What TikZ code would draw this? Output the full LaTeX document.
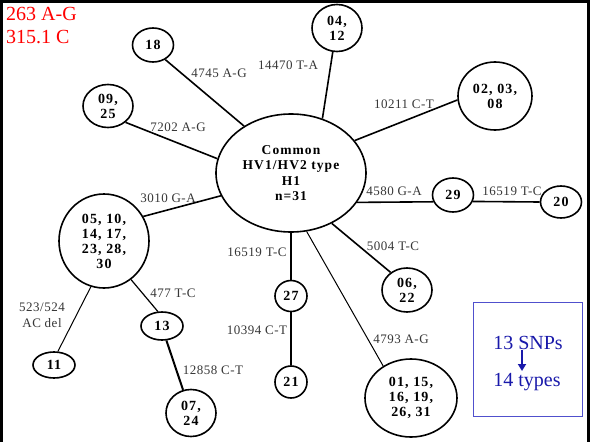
\documentclass[tikz,border=0pt]{standalone}
\usepackage{fontspec}
\setmainfont{Liberation Serif}
\newfontfamily\nodefont[LetterSpace=8]{Liberation Serif}
\newfontfamily\labfont[LetterSpace=4]{Liberation Serif}
\usetikzlibrary{shapes.geometric,arrows.meta}
\definecolor{labgray}{RGB}{55,55,55}
\definecolor{noteblue}{RGB}{25,25,170}
\definecolor{boxblue}{RGB}{80,80,205}
\tikzset{
  hap/.style={ellipse,draw=black,line width=1.6pt,inner sep=0pt,align=center,
    font=\nodefont\fontsize{14}{15}\selectfont\bfseries},
  mut/.style={text=labgray,inner sep=0pt,align=center,
    font=\labfont\fontsize{13}{16}\selectfont},
  edge/.style={line width=1.6pt},
  thinedge/.style={line width=1pt},
  thickedge/.style={line width=2pt},
}
\begin{document}
\begin{tikzpicture}[x=1pt,y=-1pt]
\useasboundingbox (0,0) rectangle (590,442);
\fill[white] (0,0) rectangle (590,442);
\draw[line width=3pt] (1.5,442) -- (1.5,1.5) -- (588.5,1.5) -- (588.5,442);

% red note
\node[text=red,anchor=north west,align=left,inner sep=0pt,
  font=\fontsize{20}{23}\selectfont] (note) at (6,7) {263 A-G\\315.1 C};

% haplotype nodes
\node[hap,minimum width=150pt,minimum height=118pt,font=\nodefont\fontsize{13.5}{15.5}\selectfont\bfseries] (h1) at (291,173) {Common\\HV1/HV2 type\\H1\\n=31};
\node[hap,minimum width=41pt,minimum height=34pt] (n18) at (153,45) {18};
\node[hap,minimum width=50pt,minimum height=43pt] (n09) at (108,106) {09,\\25};
\node[hap,minimum width=50pt,minimum height=47pt] (n04) at (337,28) {04,\\12};
\node[hap,minimum width=74pt,minimum height=68pt] (n02) at (495,96) {02, 03,\\08};
\node[hap,minimum width=90pt,minimum height=94pt] (n05) at (104,241) {05, 10,\\14, 17,\\23, 28,\\30};
\node[hap,minimum width=41pt,minimum height=34pt] (n29) at (453,195) {29};
\node[hap,minimum width=41pt,minimum height=32pt] (n20) at (561,202) {20};
\node[hap,minimum width=50pt,minimum height=44pt] (n06) at (407,290) {06,\\22};
\node[hap,minimum width=32pt,minimum height=31pt] (n27) at (291,296) {27};
\node[hap,minimum width=32pt,minimum height=32pt] (n21) at (291,382) {21};
\node[hap,minimum width=42pt,minimum height=28pt] (n13) at (162,326) {13};
\node[hap,minimum width=42pt,minimum height=26pt] (n11) at (54,365) {11};
\node[hap,minimum width=50pt,minimum height=47pt] (n07) at (191,413) {07,\\24};
\node[hap,minimum width=92pt,minimum height=78pt] (n01) at (411,398) {01, 15,\\16, 19,\\26, 31};

% connectors
\draw[edge] (h1.135) -- (n18.-50);
\draw[edge] (h1.169) -- (n09.-43);
\draw[edge] (h1.60) -- (n04.260);
\draw[edge] (h1.27) -- (n02.186);
\draw[edge] (h1.198) -- (n05.32);
\draw[edge] (h1.-24) -- (n29.199);
\draw[edge] (n29.-18) -- (n20.180);
\draw[edge] (h1.-51) -- (n06.133);
\draw[thickedge] (h1.-90) -- (n27.90);
\draw[thinedge] (h1.-75) -- (n01.131);
\draw[thinedge] (n05.-106) -- (n11.74);
\draw[line width=1.2pt] (n05.-55) -- (n13.106);
\draw[thickedge] (n13.-73) -- (n07.109);
\draw[thickedge] (n27.-90) -- (n21.90);

% mutation labels
\node[mut] (m1) at (219,73) {4745 A-G};
\node[mut] (m2) at (288,65) {14470 T-A};
\node[mut] (m3) at (178,127) {7202 A-G};
\node[mut] (m4) at (404,104) {10211 C-T};
\node[mut] (m5) at (168,198) {3010 G-A};
\node[mut] (m6) at (394,191) {4580 G-A};
\node[mut] (m7) at (512,191) {16519 T-C};
\node[mut] (m8) at (393,246) {5004 T-C};
\node[mut] (m9) at (257,252) {16519 T-C};
\node[mut] (m10) at (173,293) {477 T-C};
\node[mut] (m11) at (42,315) {523/524\\AC del};
\node[mut] (m12) at (257,330) {10394 C-T};
\node[mut] (m13) at (213,370) {12858 C-T};
\node[mut] (m14) at (401,339) {4793 A-G};

% blue summary box
\draw[boxblue,line width=1pt] (473,302) rectangle (582,416);
\node[text=noteblue,inner sep=0pt,font=\fontsize{20}{23}\selectfont,anchor=base] (snp) at (528,349) {13 SNPs};
\node[text=noteblue,inner sep=0pt,font=\fontsize{20}{23}\selectfont,anchor=base] (typ) at (527,386) {14 types};
\coordinate (a1) at (522,350);
\coordinate (a2) at (522,371);
\draw[noteblue,line width=2.6pt,-{Triangle[length=7pt,width=8pt]}] (a1) -- (a2);
\end{tikzpicture}
\end{document}
